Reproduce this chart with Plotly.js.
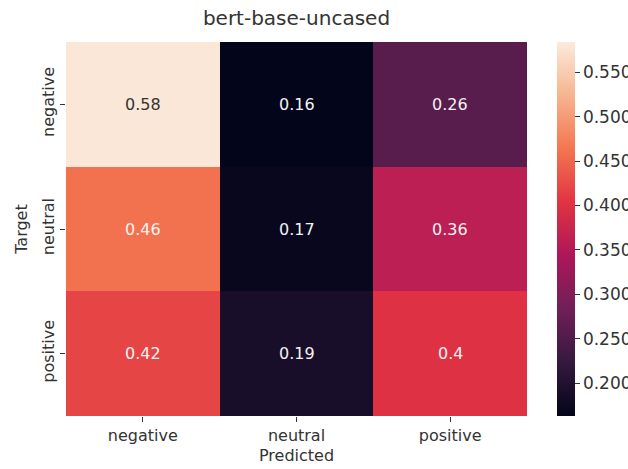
<!DOCTYPE html>
<html>
<head>
<meta charset="utf-8">
<script src="https://cdn.plot.ly/plotly-3.0.1.min.js"></script>
<style>
  html, body { margin: 0; padding: 0; background: #fff; }
  #chart { width: 628px; height: 469px; }
</style>
</head>
<body>
<div id="chart"></div>
<script>
// Confusion matrix (row-normalised) for bert-base-uncased
const predicted = ["negative", "neutral", "positive"];
const target = ["negative", "neutral", "positive"];
const rowNegative = [0.58, 0.16, 0.26];
const rowNeutral = [0.46, 0.17, 0.36];
const rowPositive = [0.42, 0.19, 0.40];
const colorbarTicks = [0.20, 0.25, 0.30, 0.35, 0.40, 0.45, 0.50, 0.55];

const z = [rowNegative, rowNeutral, rowPositive];

// seaborn "rocket" colour map
const rocket = [
  [0.000, "#03051a"],
  [0.143, "#35193e"],
  [0.286, "#701f57"],
  [0.429, "#ad1759"],
  [0.571, "#e13342"],
  [0.714, "#f37651"],
  [0.857, "#f6b48f"],
  [1.000, "#faebdd"]
];

const fontFamily = "DejaVu Sans, sans-serif";
const textColor = "#333333";
const fs = 16;

const heat = {
  type: "heatmap",
  x: predicted,
  y: target,
  z: z,
  colorscale: rocket,
  zmin: 0.163,
  zmax: 0.584,
  hoverinfo: "skip",
  colorbar: {
    x: 1.065,
    xanchor: "left",
    xref: "paper",
    xpad: 0,
    y: 0.5,
    yanchor: "middle",
    ypad: 0,
    len: 1,
    lenmode: "fraction",
    thickness: 18,
    outlinewidth: 0,
    tickvals: colorbarTicks,
    ticktext: colorbarTicks.map(v => v.toFixed(3)),
    ticks: "outside",
    ticklen: 5,
    tickwidth: 1,
    tickcolor: textColor,
    tickfont: { family: fontFamily, size: 17, color: textColor }
  }
};

// value labels in each cell
const annotations = [];
z.forEach((row, i) => {
  row.forEach((v, j) => {
    annotations.push({
      x: predicted[j],
      y: target[i],
      xref: "x",
      yref: "y",
      text: String(Number(v.toPrecision(2))),
      showarrow: false,
      font: { family: fontFamily, size: fs, color: v > 0.5 ? "#333333" : "#f2f2f2" }
    });
  });
});

const layout = {
  width: 628,
  height: 469,
  margin: { l: 66, r: 101, t: 42, b: 53, autoexpand: false },
  paper_bgcolor: "#ffffff",
  plot_bgcolor: "#ffffff",
  font: { family: fontFamily, size: fs, color: textColor },
  title: {
    text: "bert-base-uncased",
    x: 0.5,
    xref: "paper",
    xanchor: "center",
    y: 1 - 18 / 469,
    yanchor: "middle",
    font: { family: fontFamily, size: 20, color: textColor }
  },
  xaxis: {
    title: { text: "Predicted", standoff: 5, font: { size: fs, color: textColor } },
    automargin: false,
    ticks: "outside",
    ticklen: 5,
    tickcolor: textColor,
    showgrid: false,
    zeroline: false,
    showline: false,
    tickfont: { size: fs, color: textColor }
  },
  yaxis: {
    title: { text: "Target", standoff: 6, font: { size: fs, color: textColor } },
    automargin: false,
    autorange: "reversed",
    ticks: "outside",
    ticklen: 5,
    tickcolor: textColor,
    tickangle: -90,
    showgrid: false,
    zeroline: false,
    showline: false,
    tickfont: { size: fs, color: textColor }
  },
  annotations: annotations
};

Plotly.newPlot("chart", [heat], layout, { displayModeBar: false, staticPlot: true });
</script>
</body>
</html>
